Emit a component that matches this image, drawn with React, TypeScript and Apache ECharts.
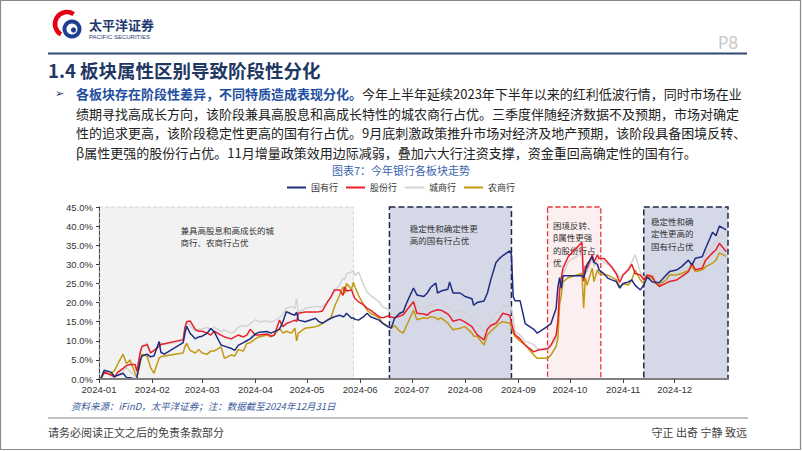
import React, { useEffect, useRef } from "react";
import * as echarts from "echarts";

// ---------- data ----------
const seriesNames = ["国有行", "股份行", "城商行", "农商行"];

const dates = [
  "2024-01-02","2024-01-04","2024-01-08","2024-01-10","2024-01-12","2024-01-15","2024-01-17","2024-01-19","2024-01-22","2024-01-23","2024-01-25","2024-01-26","2024-01-29","2024-01-31",
  "2024-02-02","2024-02-05","2024-02-06","2024-02-08","2024-02-19","2024-02-20","2024-02-21","2024-02-23","2024-02-26","2024-02-28",
  "2024-03-01","2024-03-04","2024-03-06","2024-03-08","2024-03-12","2024-03-14","2024-03-18","2024-03-20","2024-03-22","2024-03-25","2024-03-27","2024-03-29",
  "2024-04-01","2024-04-03","2024-04-08","2024-04-10","2024-04-12","2024-04-15","2024-04-17","2024-04-19","2024-04-22","2024-04-24","2024-04-25","2024-04-26","2024-04-30",
  "2024-05-06","2024-05-08","2024-05-10","2024-05-13","2024-05-15","2024-05-17","2024-05-20","2024-05-22","2024-05-23","2024-05-24","2024-05-27","2024-05-28","2024-05-29","2024-05-31",
  "2024-06-03","2024-06-05","2024-06-07","2024-06-12","2024-06-14","2024-06-17","2024-06-19","2024-06-21","2024-06-24","2024-06-26","2024-06-28",
  "2024-07-02","2024-07-04","2024-07-08","2024-07-10","2024-07-12","2024-07-15","2024-07-16","2024-07-18","2024-07-22","2024-07-23","2024-07-25","2024-07-29",
  "2024-08-01","2024-08-05","2024-08-06","2024-08-08","2024-08-12","2024-08-14","2024-08-16","2024-08-19","2024-08-21","2024-08-23","2024-08-27","2024-08-28","2024-08-29","2024-08-30",
  "2024-09-02","2024-09-05","2024-09-10","2024-09-12","2024-09-18","2024-09-20","2024-09-23","2024-09-24","2024-09-25","2024-09-26","2024-09-27","2024-09-30",
  "2024-10-08","2024-10-09","2024-10-10","2024-10-11","2024-10-14","2024-10-15","2024-10-17","2024-10-18","2024-10-21","2024-10-23","2024-10-25","2024-10-28","2024-10-30",
  "2024-11-01","2024-11-04","2024-11-06","2024-11-08","2024-11-11","2024-11-13","2024-11-15","2024-11-18","2024-11-20","2024-11-22","2024-11-26","2024-11-28",
  "2024-12-02","2024-12-05","2024-12-09","2024-12-11","2024-12-13","2024-12-17","2024-12-19","2024-12-23","2024-12-25","2024-12-27","2024-12-31",
];

// 国有行
const stateOwned = [
  0, 2.3, 1.8, 0.6, 1.0, 1.5, 0.4, 0.3, 0.0, 0.2, 5.0, 6.0, 6.5, 5.8,
  6.0, 9.8, 7.0, 6.5, 9.5, 12.0, 13.8, 12.0, 10.5, 11.0,
  11.2, 12.0, 13.2, 12.4, 8.9, 8.6, 8.0, 7.5, 8.8, 9.5, 10.0, 10.5,
  11.8, 12.2, 12.4, 12.0, 12.4, 13.0, 15.0, 17.6, 17.0, 16.7, 17.5, 15.4, 15.0,
  15.9, 15.0, 14.6, 15.4, 15.9, 16.3, 16.7, 16.3, 16.5, 17.2, 15.9, 16.0, 15.6, 15.4,
  16.3, 17.2, 16.3, 15.4, 14.6, 13.7, 13.3, 15.9, 17.2, 17.6, 19.9,
  23.8, 22.0, 21.6, 22.5, 24.0, 25.1, 22.5, 23.0, 23.5, 25.4, 22.5, 22.5,
  21.6, 21.0, 19.3, 20.0, 20.4, 22.5, 26.0, 30.5, 31.5, 32.3, 33.5, 32.5, 21.6, 20.5,
  20.5, 14.5, 13.0, 12.0, 13.8, 14.5, 18.5, 24.0, 26.5, 23.8, 27.0, 27.0,
  27.0, 26.5, 28.0, 30.0, 32.0, 30.5, 30.0, 28.5, 27.5, 26.4, 26.0, 25.5, 23.8,
  25.0, 25.4, 25.9, 24.5, 23.3, 24.6, 26.7, 25.4, 25.3, 25.2, 27.2, 28.1,
  28.5, 29.4, 31.1, 29.8, 31.6, 32.0, 34.2, 38.4, 37.5, 40.0, 39.0,
];

// 股份行
const jointStock = [
  0, 1.8, 1.0, 0.5, 1.8, 2.8, 3.5, 3.8, 3.8, 2.0, 7.0, 8.5, 9.0, 6.8,
  7.5, 8.5, 9.0, 9.2, 10.3, 13.5, 15.0, 15.2, 13.0, 12.5,
  12.5, 12.0, 11.5, 12.5, 11.5, 11.0, 10.5, 11.0, 11.5, 11.0, 11.5, 13.0,
  11.5, 11.5, 11.8, 11.2, 11.5, 15.4, 13.7, 14.5, 15.0, 15.4, 15.0, 17.2, 17.5,
  17.5, 17.6, 17.8, 20.2, 21.5, 23.3, 23.3, 21.9, 24.1, 23.0, 23.3, 22.0, 21.0, 20.2,
  19.4, 18.5, 18.0, 16.3, 16.0, 16.5, 16.2, 16.0, 16.5, 16.8, 18.0,
  20.2, 17.2, 17.0, 16.7, 17.5, 18.0, 18.1, 18.0, 17.0, 16.5, 15.1, 15.6,
  14.9, 13.7, 13.0, 11.6, 10.2, 13.0, 14.0, 14.6, 15.8, 17.2, 16.7, 14.6, 13.0, 11.6,
  10.5, 8.9, 7.1, 7.5, 8.0, 8.9, 11.5, 15.0, 23.3, 26.5, 29.0, 32.0,
  35.8, 25.6, 29.6, 29.0, 32.6, 30.5, 32.5, 31.5, 31.5, 30.5, 29.5, 27.5, 25.3,
  27.2, 28.5, 30.0, 27.6, 27.2, 25.9, 27.2, 26.8, 25.1, 24.2, 25.1, 25.5,
  25.9, 26.8, 28.1, 30.3, 28.6, 29.0, 31.1, 33.0, 33.8, 35.5, 33.3,
];

// 城商行
const cityBanks = [
  0, 1.5, 1.2, 0.8, 1.6, 2.2, 3.0, 2.0, 0.8, 1.0, 6.5, 8.5, 9.5, 7.0,
  7.5, 8.8, 9.5, 9.0, 10.0, 13.0, 14.5, 14.0, 12.5, 13.0,
  13.0, 13.5, 13.0, 13.5, 12.5, 12.8, 12.0, 12.5, 13.5, 14.0, 13.8, 14.5,
  15.5, 15.0, 15.2, 14.8, 15.2, 16.0, 17.0, 18.5, 19.0, 18.5, 21.0, 17.5, 18.5,
  19.0, 18.9, 18.9, 20.2, 21.6, 23.0, 24.6, 26.3, 26.0, 27.5, 28.0, 28.4, 27.0, 28.0,
  24.6, 22.8, 21.9, 20.2, 18.9, 18.3, 17.2, 16.8, 17.5, 17.0, 18.5,
  20.5, 19.0, 18.5, 19.4, 19.4, 19.5, 19.5, 20.0, 18.5, 19.0, 17.5, 17.6,
  17.5, 16.0, 15.0, 14.5, 12.5, 13.5, 15.5, 17.0, 17.5, 19.0, 19.4, 18.5, 16.0, 12.5,
  11.5, 9.9, 9.0, 8.0, 7.5, 8.5, 10.5, 14.5, 22.0, 24.5, 27.2, 30.7,
  33.0, 25.6, 28.5, 28.0, 31.5, 29.5, 31.0, 32.0, 30.5, 30.0, 29.5, 28.0, 26.5,
  27.5, 29.0, 30.5, 32.5, 28.0, 26.5, 27.0, 27.5, 26.0, 25.5, 26.5, 27.5,
  27.5, 28.4, 29.3, 31.1, 30.2, 29.8, 32.5, 35.0, 36.0, 37.7, 36.5,
];

// 农商行
const ruralBanks = [
  0, 1.8, 1.3, 2.2, 4.0, 6.5, 4.0, 5.0, 1.5, 0.5, 4.0, 6.5, 6.0, 3.0,
  1.5, 5.5, 5.8, 6.0, 6.8, 8.5, 9.3, 7.5, 6.8, 7.7,
  6.8, 6.5, 7.3, 7.3, 8.4, 5.4, 6.3, 6.0, 7.7, 7.3, 9.3, 9.5,
  10.5, 11.0, 11.5, 11.0, 11.5, 13.3, 12.0, 12.5, 12.0, 13.3, 10.0, 12.0, 13.3,
  13.7, 14.0, 14.5, 15.5, 16.0, 18.9, 21.9, 24.1, 22.4, 25.0, 23.5, 25.3, 24.0, 21.9,
  19.4, 18.0, 17.2, 16.0, 14.6, 13.8, 13.3, 14.0, 12.5, 12.0, 14.0,
  18.0, 15.5, 16.0, 15.8, 16.3, 16.0, 15.5, 16.0, 14.6, 14.0, 12.9, 13.3,
  13.7, 12.0, 11.2, 11.2, 8.9, 11.5, 12.5, 13.7, 14.6, 15.0, 14.6, 13.5, 12.0, 11.2,
  9.9, 8.9, 6.3, 5.4, 5.4, 6.3, 8.5, 10.7, 19.4, 22.0, 25.4, 26.5,
  27.6, 18.5, 26.5, 24.5, 29.0, 25.5, 28.5, 27.6, 27.2, 27.2, 26.7, 26.0, 24.2,
  24.9, 24.6, 25.9, 28.5, 25.9, 24.9, 26.8, 26.3, 24.9, 24.6, 25.9, 27.2,
  27.2, 27.6, 28.5, 29.4, 28.1, 28.5, 29.4, 30.3, 31.1, 33.0, 32.1,
];

const monthTicks = [
  "2024-01-01","2024-02-01","2024-03-01","2024-04-01","2024-05-01","2024-06-01",
  "2024-07-01","2024-08-01","2024-09-01","2024-10-01","2024-11-01","2024-12-01",
];
const axisStart = "2024-01-01";
const axisEnd = "2025-01-01";
const yMin = 0;
const yMax = 45;
const yStep = 5;

const phases = [
  { start: "2024-01-01", end: "2024-05-28", kind: "grey", text: "兼具高股息和高成长的城\n商行、农商行占优" },
  { start: "2024-06-18", end: "2024-08-28", kind: "navy", text: "稳定性和确定性更\n高的国有行占优" },
  { start: "2024-09-18", end: "2024-10-19", kind: "red", text: "困境反转、\nβ属性更强\n的股份行占\n优" },
  { start: "2024-11-13", end: "2025-01-01", kind: "navy", text: "稳定性和确\n定性更高的\n国有行占优" },
];

const bodyLead = "各板块存在阶段性差异，不同特质造成表现分化。";
const bodyLines = [
  "今年上半年延续2023年下半年以来的红利低波行情，同时市场在业",
  "绩期寻找高成长方向，该阶段兼具高股息和高成长特性的城农商行占优。三季度伴随经济数据不及预期，市场对确定",
  "性的追求更高，该阶段稳定性更高的国有行占优。9月底刺激政策推升市场对经济及地产预期，该阶段具备困境反转、",
  "β属性更强的股份行占优。11月增量政策效用边际减弱，叠加六大行注资支撑，资金重回高确定性的国有行。",
];

// ---------- styles ----------
const FONT = "'Noto Sans CJK SC', 'Noto Sans', sans-serif";
const NUMFONT = "'Liberation Sans', 'Noto Sans CJK SC', sans-serif";
const seriesColors = ["#1F2D80", "#E8202A", "#D3D3D3", "#C29A12"];
const seriesZ = [6, 5, 3, 4];
const phaseStyles: Record<string, any> = {
  grey: { color: "#F2F2F2", borderColor: "#D4D4D4", borderWidth: 1, borderType: "dashed" },
  navy: { color: "#D5D8E7", borderColor: "#1E2747", borderWidth: 1.5, borderType: "dashed" },
  red: { color: "#FCEFEF", borderColor: "#E5383B", borderWidth: 1.3, borderType: "dashed" },
};
const phaseLabelOffsets = [[82, 17], [21, 15], [6, 12], [8, 8]];

const ts = (s: string) => {
  const [y, m, d] = s.split("-").map(Number);
  return new Date(y, m - 1, d).getTime();
};

export default function App() {
  const ref = useRef<HTMLDivElement>(null);
  useEffect(() => {
    if (!ref.current) return;
    const chart = echarts.init(ref.current, undefined, { renderer: "svg" });
    const values = [stateOwned, jointStock, cityBanks, ruralBanks];

    const series: any[] = seriesNames.map((name, i) => ({
      name,
      type: "line",
      data: dates.map((d, k) => [ts(d), values[i][k]]),
      showSymbol: false,
      symbol: "none",
      z: seriesZ[i],
      lineStyle: { width: 1.5, color: seriesColors[i] },
      itemStyle: { color: seriesColors[i] },
    }));
    series[0].markArea = {
      silent: true,
      z: 1,
      data: phases.map((p, i) => [
        {
          name: p.text,
          xAxis: ts(p.start),
          yAxis: 45.8,
          itemStyle: phaseStyles[p.kind],
          label: {
            show: true,
            position: phaseLabelOffsets[i],
            fontSize: 8.5,
            lineHeight: 12.5,
            color: "#333333",
            fontFamily: FONT,
            align: "left",
            verticalAlign: "top",
          },
        },
        { xAxis: ts(p.end), yAxis: -0.7 },
      ]),
    };

    const text = (x: number, y: number, str: string, st: any = {}) => ({
      type: "text",
      x,
      y,
      silent: true,
      style: { text: str, fontFamily: FONT, verticalAlign: "middle", ...st },
    });

    const graphic: any[] = [
      { type: "rect", shape: { x: 0.5, y: 0.5, width: 800, height: 449 }, style: { fill: "none", stroke: "#8A8A8A", lineWidth: 1.2 }, silent: true },
      // logo
      { type: "arc", shape: { cx: 67, cy: 24, r: 12, startAngle: 2.1, endAngle: 5.3, clockwise: true }, style: { stroke: "#E60012", lineWidth: 4.5, fill: null }, silent: true },
      { type: "circle", shape: { cx: 72, cy: 29, r: 9.5 }, style: { fill: "#1E3F8F" }, silent: true },
      { type: "circle", shape: { cx: 72, cy: 29, r: 5.5 }, style: { fill: "#ffffff" }, silent: true },
      { type: "circle", shape: { cx: 73.5, cy: 30, r: 2.6 }, style: { fill: "#1E3F8F" }, silent: true },
      text(89, 24.5, "太平洋证券", { fontSize: 13, fontWeight: "bold", fill: "#1F3A70" }),
      text(89, 37, "PACIFIC SECURITIES", { fontSize: 6, fill: "#1F3A70", fontFamily: NUMFONT }),
      text(718, 42.5, "P8", { fontSize: 17, fill: "#C8C8C8", fontFamily: "Lato, 'Noto Sans', sans-serif" }),
      { type: "line", shape: { x1: 48, y1: 53.5, x2: 747, y2: 53.5 }, style: { stroke: "#2F4A70", lineWidth: 2 }, silent: true },
      text(48, 70, "1.4 板块属性区别导致阶段性分化", { fontSize: 18.5, fontWeight: "bold", fill: "#1F3864" }),
      text(55, 93.5, "➢", { fontSize: 11, fill: "#1F3864", fontFamily: "'DejaVu Sans', sans-serif" }),
      {
        type: "text",
        x: 76,
        y: 93.5,
        silent: true,
        style: {
          text: `{b|${bodyLead}}{n|${bodyLines[0]}}`,
          verticalAlign: "middle",
          rich: {
            b: { fontSize: 13, fontWeight: "bold", fill: "#1F4FA0", fontFamily: FONT },
            n: { fontSize: 13, fill: "#222222", fontFamily: FONT },
          },
        },
      },
      text(76, 113, bodyLines[1], { fontSize: 13, fill: "#222222" }),
      text(76, 132.5, bodyLines[2], { fontSize: 13, fill: "#222222" }),
      text(76, 152, bodyLines[3], { fontSize: 13, fill: "#222222" }),
      text(401, 170, "图表7：今年银行各板块走势", { fontSize: 11, fill: "#3A63AD", align: "center" }),
      text(71, 406, "资料来源：iFinD，太平洋证券；注：数据截至2024年12月31日", { fontSize: 9.5, fill: "#3B5998", fontStyle: "italic" }),
      { type: "line", shape: { x1: 48, y1: 418, x2: 748, y2: 418 }, style: { stroke: "#C0C0C0", lineWidth: 2 }, silent: true },
      text(48, 432, "请务必阅读正文之后的免责条款部分", { fontSize: 11, fill: "#404040" }),
      text(747, 432, "守正 出奇 宁静 致远", { fontSize: 11, fill: "#404040", align: "right" }),
    ];

    const monthVals = monthTicks.map(ts);
    chart.setOption({
      animation: false,
      backgroundColor: "#ffffff",
      textStyle: { fontFamily: FONT },
      grid: { left: 99, right: 74, top: 207, bottom: 72, containLabel: false },
      legend: {
        data: seriesNames,
        top: 183,
        left: "center",
        padding: 0,
        icon: "rect",
        itemWidth: 19,
        itemHeight: 2,
        itemGap: 8,
        textStyle: { fontSize: 9, color: "#333333", fontFamily: FONT },
      },
      xAxis: {
        type: "value",
        min: ts(axisStart),
        max: ts(axisEnd),
        z: 8,
        axisLine: { show: true, lineStyle: { color: "#7F7F7F", width: 2 } },
        axisTick: { show: true, length: 4, customValues: monthVals, lineStyle: { color: "#404040" } },
        axisLabel: {
          customValues: monthVals,
          fontSize: 9.5,
          color: "#333333",
          fontFamily: NUMFONT,
          margin: 6,
          formatter: (v: number) => {
            const d = new Date(v);
            return `${d.getFullYear()}-${String(d.getMonth() + 1).padStart(2, "0")}`;
          },
        },
        splitLine: { show: false },
      },
      yAxis: {
        type: "value",
        min: yMin,
        max: yMax,
        interval: yStep,
        z: 8,
        axisLine: { show: true, lineStyle: { color: "#404040", type: "dashed", width: 1 } },
        axisTick: { show: true, length: 3, lineStyle: { color: "#404040" } },
        axisLabel: {
          fontSize: 9.5,
          color: "#333333",
          fontFamily: NUMFONT,
          margin: 6,
          formatter: (v: number) => v.toFixed(1) + "%",
        },
        splitLine: { show: false },
      },
      series,
      graphic,
    });
    return () => chart.dispose();
  }, []);
  return (
    <div
      ref={ref}
      style={{ position: "absolute", left: 0, top: 0, width: 802, height: 451, background: "#fff" }}
    />
  );
}
